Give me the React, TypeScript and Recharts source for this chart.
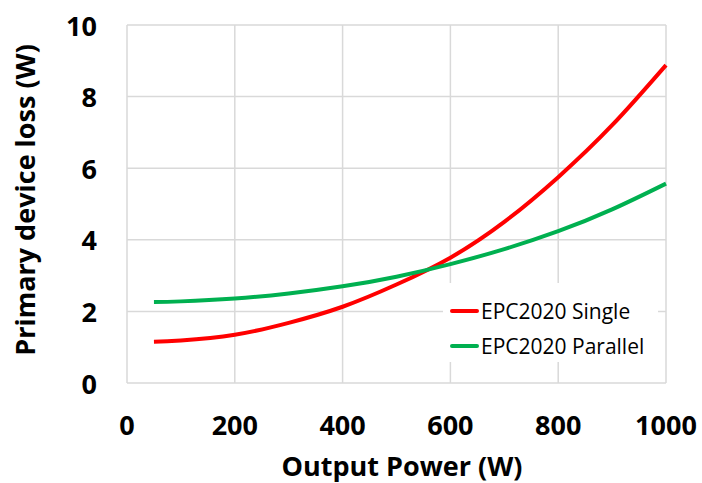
import React from "react";
import { LineChart, Line, XAxis, YAxis, CartesianGrid } from "recharts";

const outputPower = [50, 100, 200, 300, 400, 500, 600, 700, 800, 900, 1000];
const singleLoss = [1.15, 1.19, 1.35, 1.68, 2.13, 2.75, 3.5, 4.5, 5.75, 7.2, 8.88];
const parallelLoss = [2.26, 2.28, 2.36, 2.5, 2.7, 2.97, 3.32, 3.74, 4.24, 4.85, 5.57];
const xTicks = [0, 200, 400, 600, 800, 1000];
const yTicks = [0, 2, 4, 6, 8, 10];
const seriesNames = ["EPC2020 Single", "EPC2020 Parallel"];
const seriesColors = ["#ff0000", "#00b050"];

const data = outputPower.map((p, i) => ({ p, single: singleLoss[i], parallel: parallelLoss[i] }));

const FONT = "'Open Sans', sans-serif";

const XTick = (props: any) => {
  const { x, payload } = props;
  return (
    <text x={x} y={424} textAnchor="middle" dominantBaseline="central" fontFamily={FONT} fontWeight={700} fontSize={27} fill="#000">
      {payload.value}
    </text>
  );
};

const YTick = (props: any) => {
  const { y, payload } = props;
  return (
    <text x={97} y={y} textAnchor="end" dominantBaseline="central" fontFamily={FONT} fontWeight={700} fontSize={27} fill="#000">
      {payload.value}
    </text>
  );
};

const YTitle = () => (
  <text x={24} y={200} transform="rotate(-90 24 200)" textAnchor="middle" dominantBaseline="central" fontFamily={FONT} fontWeight={700} fontSize={27} fill="#000">
    Primary device loss (W)
  </text>
);

const XTitle = () => (
  <text x={402} y={465} textAnchor="middle" dominantBaseline="central" fontFamily={FONT} fontWeight={700} fontSize={27} fill="#000">
    Output Power (W)
  </text>
);

const LegendBox = () => (
  <div style={{ position: "absolute", left: 443, top: 283, background: "#fff", width: 215, height: 79, fontFamily: FONT }}>
    {seriesNames.map((name, i) => (
      <div key={name} style={{ position: "absolute", left: 7, top: i === 0 ? 16 : 51, height: 24, display: "flex", alignItems: "center" }}>
        <div style={{ width: 29, height: 4, background: seriesColors[i], borderRadius: 2, marginRight: 2 }} />
        <span style={{ fontSize: 21, color: "#000", lineHeight: "24px", whiteSpace: "nowrap" }}>{name}</span>
      </div>
    ))}
  </div>
);

export default function App() {
  return (
    <div style={{ position: "absolute", left: 0, top: 0, width: 702, height: 483, background: "#fff" }}>
      <LineChart width={702} height={483} data={data} margin={{ top: 25, right: 36, bottom: 0, left: 0 }}>
        <CartesianGrid stroke="#d9d9d9" strokeWidth={1.5} />
        <XAxis
          dataKey="p"
          type="number"
          domain={[0, 1000]}
          ticks={xTicks}
          height={100}
          axisLine={false}
          tickLine={false}
          tick={<XTick />}
          label={<XTitle />}
        />
        <YAxis
          type="number"
          domain={[0, 10]}
          ticks={yTicks}
          width={127}
          axisLine={false}
          tickLine={false}
          tick={<YTick />}
          label={<YTitle />}
        />
        <Line type="natural" dataKey="single" name={seriesNames[0]} stroke={seriesColors[0]} strokeWidth={4} dot={false} isAnimationActive={false} />
        <Line type="natural" dataKey="parallel" name={seriesNames[1]} stroke={seriesColors[1]} strokeWidth={4} dot={false} isAnimationActive={false} />
      </LineChart>
      <LegendBox />
    </div>
  );
}
